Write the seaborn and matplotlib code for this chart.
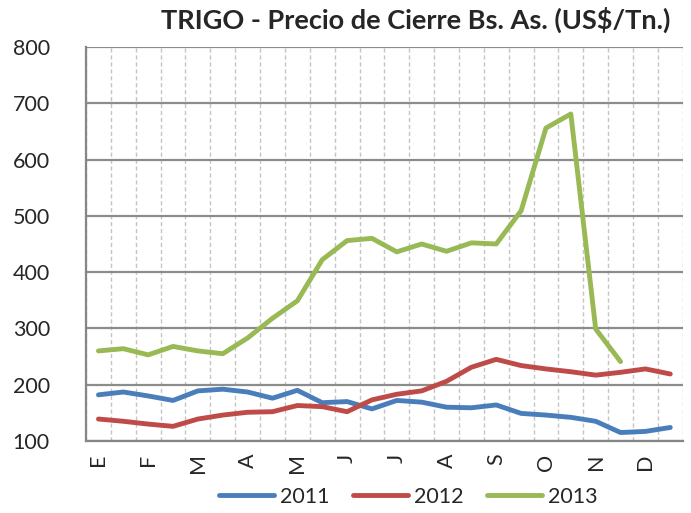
import numpy as np
import pandas as pd
import matplotlib
matplotlib.use("Agg")
import matplotlib.pyplot as plt
import seaborn as sns

# values (two points per month)
months = ["E", "F", "M", "A", "M", "J", "J", "A", "S", "O", "N", "D"]
precio_2011 = [182, 187, 180, 172, 189, 192, 187, 176, 190, 168, 170, 157,
               172, 169, 160, 159, 164, 149, 146, 142, 135, 115, 117, 124]
precio_2012 = [139, 135, 130, 126, 139, 146, 151, 152, 163, 161, 152, 173,
               183, 189, 206, 231, 245, 234, 228, 223, 217, 222, 228, 219]
precio_2013 = [260, 264, 253, 268, 260, 255, 283, 318, 349, 422, 456, 460,
               436, 450, 437, 452, 450, 509, 656, 681, 299, 241, np.nan, np.nan]

colors = {"2011": "#4A7EBB", "2012": "#BE4B48", "2013": "#98B954"}

n = len(precio_2011)
df = pd.concat([
    pd.DataFrame({"idx": range(n), "precio": precio_2011, "year": "2011"}),
    pd.DataFrame({"idx": range(n), "precio": precio_2012, "year": "2012"}),
    pd.DataFrame({"idx": range(n), "precio": precio_2013, "year": "2013"}),
]).dropna()

sns.set_style("white")
plt.rcParams["font.family"] = ["Lato", "DejaVu Sans"]

fig = plt.figure(figsize=(6.91, 5.13), dpi=100)
ax = fig.add_axes([0.1245, 0.1404, 0.8635, 0.768])

sns.lineplot(data=df, x="idx", y="precio", hue="year", palette=colors,
             linewidth=3.5, ax=ax, legend=True, solid_capstyle="round")

ax.set_xlim(-0.5, n - 0.5)
ax.set_ylim(100, 800)
ax.set_yticks(range(100, 801, 100))

# category boundaries: tick marks + dashed vertical grid
ax.set_xticks(np.arange(-0.5, n, 1), minor=True)
ax.set_xticks(np.arange(0, n, 2))
ax.set_xticklabels(months, rotation=90, fontsize=15.5)
ax.tick_params(axis="x", which="major", length=0, pad=9)
ax.tick_params(axis="x", which="minor", length=7, width=1.3, color="#868686")
ax.tick_params(axis="y", length=8, width=1.3, color="#868686", labelsize=15.5, pad=18)

ax.grid(True, axis="x", which="minor", linestyle=(0, (3, 2)), color="#C4C4C4", linewidth=1)
ax.grid(True, axis="y", which="major", color="#8C8C8C", linewidth=1.6)
ax.set_axisbelow(True)

for side in ["top", "right"]:
    ax.spines[side].set_visible(False)
for side in ["left", "bottom"]:
    ax.spines[side].set_color("#868686")
    ax.spines[side].set_linewidth(1.6)

ax.set_xlabel("")
ax.set_ylabel("")

handles, labels = ax.get_legend_handles_labels()
ax.legend_.remove()
fig.legend(handles, labels, loc="center", bbox_to_anchor=(408 / 691, 1 - 497 / 513),
           ncol=3, frameon=False, fontsize=15.5, handlelength=2.55,
           handletextpad=0.28, columnspacing=1.1, borderpad=0)

fig.text(670 / 691, 1 - 20 / 513, "TRIGO - Precio de Cierre Bs. As. (US$/Tn.)",
         ha="right", va="center", fontsize=19.5, fontweight="bold")

fig.savefig("out.png", dpi=100)
